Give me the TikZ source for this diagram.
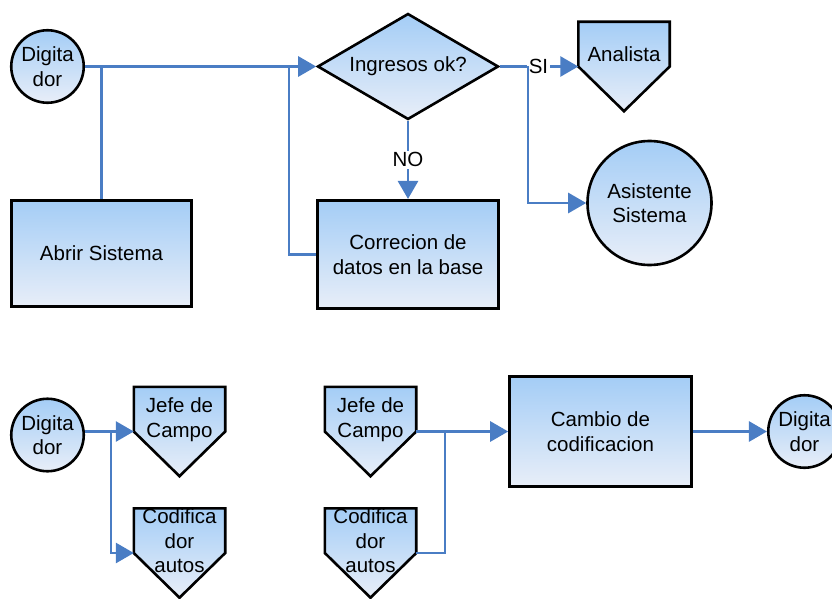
\documentclass[tikz,border=0pt]{standalone}
\usepackage{fontspec}
\setmainfont{Liberation Sans}
\usetikzlibrary{shapes.geometric,arrows.meta,backgrounds}
\definecolor{fillTop}{HTML}{A4CDF6}
\definecolor{fillBot}{HTML}{E8EEF8}
\definecolor{flowBlue}{HTML}{4A7DC4}
\begin{document}
\begin{tikzpicture}[x=1pt,y=-1pt,
  every node/.style={font=\fontsize{20.5}{24.5}\selectfont, align=center, inner sep=0pt},
  boxed/.style={draw=black, line width=2.6pt, top color=fillTop, bottom color=fillBot},
  actor/.style={boxed, circle, minimum size=#1},
  proc/.style={boxed, rectangle},
  person/.style={rectangle, minimum width=91pt, minimum height=89pt},
  flow/.style={draw=flowBlue, line width=2.8pt},
  arr/.style={flow, -{Triangle[length=18pt,width=20pt]}},
  tag/.style={fill=white, inner sep=1.5pt}
]
\useasboundingbox (0,0) rectangle (832,599);

% ---------- upper flow ----------
\node[actor=72.5pt] (dig1) at (47.5,66.5) {Digita\\dor};
\node[proc, minimum width=180.5pt, minimum height=106.5pt] (abrir) at (101.5,253.5) {Abrir Sistema};
\node[boxed, diamond, aspect=1.7, minimum width=181pt, minimum height=106pt] (dia) at (408,66.5) {Ingresos ok?};
\node[proc, minimum width=181pt, minimum height=108.5pt] (corr) at (408,254.5) {Correcion de\\datos en la base};
\node[person] (ana) at (624,66.5) {};
\node at ([yshift=12pt]ana.center) {Analista};
\node[actor=124pt] (asis) at (649.5,203) {Asistente\\Sistema};

% ---------- lower flow ----------
\node[actor=72.5pt] (dig2) at (47.5,435) {Digita\\dor};
\node[person] (jefeA) at (179.5,431.5) {};
\node at ([yshift=12pt]jefeA.center) {Jefe de\\Campo};
\node[person] (codA) at (179.5,553) {};
\node at ([yshift=12pt]codA.center) {Codifica\\dor\\autos};
\node[person] (jefeB) at (370.5,431.5) {};
\node at ([yshift=12pt]jefeB.center) {Jefe de\\Campo};
\node[person] (codB) at (370.5,553) {};
\node at ([yshift=12pt]codB.center) {Codifica\\dor\\autos};
\node[proc, minimum width=182pt, minimum height=109.5pt] (cambio) at (600.5,431.5) {Cambio de\\codificacion};
\node[actor=72.5pt] (dig3) at (804.5,431.5) {Digita\\dor};

% pentagon outlines behind their labels
\begin{scope}[on background layer]
  \foreach \n in {ana,jefeA,codA,jefeB,codB}
    \path[boxed, line join=miter] (\n.north west) -- (\n.north east) -- (\n.east)
      -- (\n.south) -- (\n.west) -- cycle;
\end{scope}

% junction points
\coordinate (j1) at (289,66.5);
\coordinate (j2) at (528,66.5);
\coordinate (j3) at (111,431.5);
\coordinate (j4) at (445,431.5);

% ---------- connectors ----------
\draw[arr] (dig1.east) -- (dia.west);
\draw[flow] (abrir.north) -- (abrir.north |- dig1.east);
\draw[flow] (corr.west) -| (j1);
\draw[arr] (dia.south) -- node[tag] (no) {NO} (corr.north);
\draw[arr] (dia.east) -- (ana.west);
\node[tag] (si) at (538.5,66.5) {SI};
\draw[arr] (j2) |- (asis.west);

\draw[arr] (dig2.east |- jefeA.west) -- (jefeA.west);
\draw[arr] (j3) |- (codA.west);
\draw[arr] (jefeB.east) -- (cambio.west);
\draw[flow] (codB.east) -| (j4);
\draw[arr] (cambio.east) -- (dig3.west);
\end{tikzpicture}
\end{document}
